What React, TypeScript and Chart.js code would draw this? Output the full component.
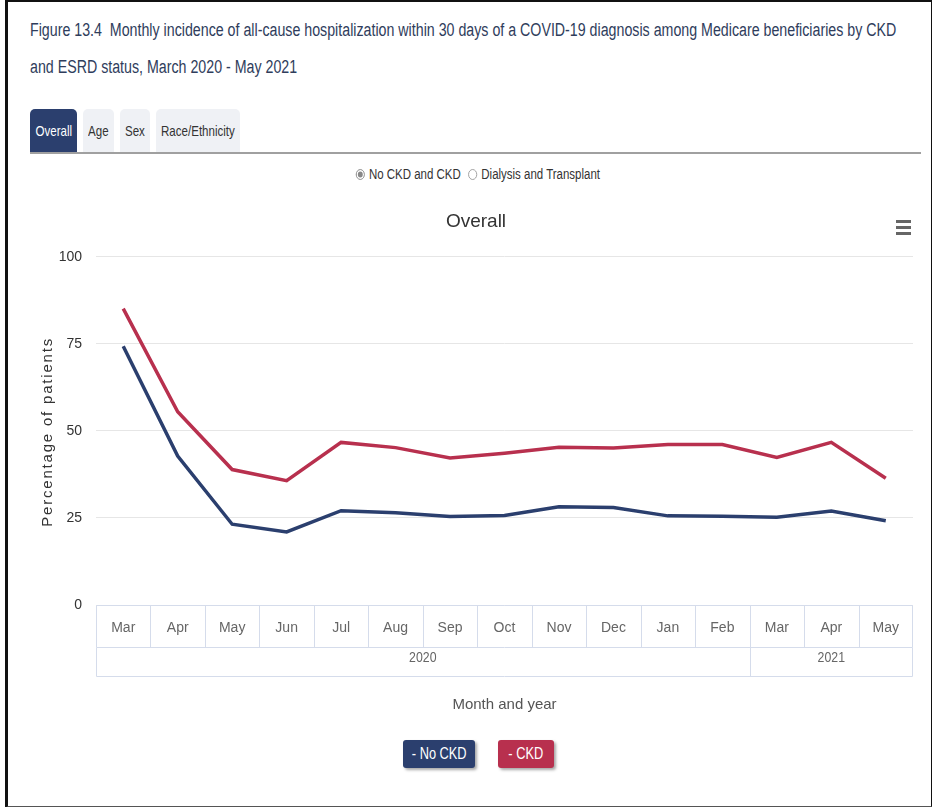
import React, { useEffect, useRef } from "react";
import { Chart, registerables } from "chart.js";

Chart.register(...registerables);

const months = ["Mar", "Apr", "May", "Jun", "Jul", "Aug", "Sep", "Oct", "Nov", "Dec", "Jan", "Feb", "Mar", "Apr", "May"];
const yearLabels = ["2020", "2021"];
const yearSpans = [12, 3];
const seriesNames = ["- No CKD", "- CKD"];
const noCkd = [74.3, 42.8, 23.2, 21.0, 27.1, 26.5, 25.4, 25.7, 28.2, 28.0, 25.6, 25.5, 25.2, 27.0, 24.2];
const ckd = [85.1, 55.5, 38.9, 35.7, 46.7, 45.2, 42.2, 43.6, 45.3, 45.1, 46.1, 46.1, 42.4, 46.7, 36.4];
const yTicks = [0, 25, 50, 75, 100];
const colors = ["#2b3f6e", "#b8304e"];
const yTitle = "Percentage of patients";

const SANS = '"Liberation Sans", Arial, sans-serif';

const groupedAxis = {
  id: "groupedAxis",
  afterDraw(chart: any) {
    const x = chart.scales.x;
    const ctx = chart.ctx;
    const n = months.length;
    const w = (x.getPixelForValue(n - 1) - x.getPixelForValue(0)) / (n - 1);
    const x0 = x.getPixelForValue(0) - w / 2;
    const left = Math.round(x0) + 0.5;
    const right = Math.round(x0 + n * w) - 0.5;
    const top = Math.round(x.top) + 0.5;
    const mid = top + 42;
    const bot = top + 71;
    ctx.save();
    ctx.strokeStyle = "#d5dceb";
    ctx.lineWidth = 1;
    ctx.beginPath();
    ctx.moveTo(left, top); ctx.lineTo(right, top);
    ctx.moveTo(left, mid); ctx.lineTo(right, mid);
    ctx.moveTo(left, bot); ctx.lineTo(right, bot);
    for (let i = 0; i <= n; i++) {
      const px = Math.min(right, Math.round(x0 + i * w) + 0.5);
      ctx.moveTo(px, top); ctx.lineTo(px, mid);
    }
    let idx = 0;
    const bounds = [0];
    yearSpans.forEach((s) => { idx += s; bounds.push(idx); });
    bounds.forEach((b) => {
      const px = Math.min(right, Math.round(x0 + b * w) + 0.5);
      ctx.moveTo(px, mid); ctx.lineTo(px, bot);
    });
    ctx.stroke();
    ctx.fillStyle = "#666";
    ctx.font = `15px ${SANS}`;
    ctx.textAlign = "center";
    ctx.textBaseline = "middle";
    yearLabels.forEach((lab, k) => {
      const a = bounds[k], b = bounds[k + 1];
      const cx = x0 + ((a + b) / 2) * w;
      ctx.save();
      ctx.translate(cx, mid + 10);
      ctx.scale(0.82, 1);
      ctx.fillText(lab, 0, 0);
      ctx.restore();
    });
    // y-axis title
    const y = chart.scales.y;
    ctx.save();
    ctx.fillStyle = "#333";
    ctx.font = `15px ${SANS}`;
    (ctx as any).letterSpacing = "1.8px";
    ctx.textAlign = "center";
    ctx.textBaseline = "middle";
    ctx.translate(38, (y.top + y.bottom) / 2 + 1);
    ctx.rotate(-Math.PI / 2);
    ctx.fillText(yTitle, 0, 0);
    ctx.restore();
    ctx.restore();
  },
};

function LineChart() {
  const ref = useRef<HTMLCanvasElement>(null);
  useEffect(() => {
    if (!ref.current) return;
    const chart = new Chart(ref.current, {
      type: "line",
      data: {
        labels: months,
        datasets: [
          { label: seriesNames[0], data: noCkd, borderColor: colors[0], backgroundColor: colors[0], borderWidth: 3.5, pointRadius: 0, tension: 0 },
          { label: seriesNames[1], data: ckd, borderColor: colors[1], backgroundColor: colors[1], borderWidth: 3.5, pointRadius: 0, tension: 0 },
        ],
      },
      options: {
        responsive: false,
        animation: false,
        layout: { padding: { left: 29, right: 12, top: 0, bottom: 0 } },
        plugins: {
          legend: { display: false },
          tooltip: { enabled: false },
          title: {
            display: true,
            text: "Overall",
            color: "#333",
            font: { family: SANS, size: 19, weight: "normal" },
            padding: { top: 10, bottom: 24 },
          },
        },
        scales: {
          x: {
            type: "category",
            offset: true,
            afterFit: (s: any) => { s.height = 125; },
            grid: { display: false, drawTicks: false },
            border: { display: false },
            ticks: { color: "#666", font: { family: SANS, size: 14 }, padding: 15, maxRotation: 0, autoSkip: false },
            title: {
              display: true,
              text: "Month and year",
              color: "#555",
              font: { family: SANS, size: 15 },
              padding: { top: 0, bottom: 16 },
            },
          },
          y: {
            min: 0,
            max: 100,
            afterFit: (s: any) => { s.width = 57; },
            afterBuildTicks: (s: any) => { s.ticks = yTicks.map((v) => ({ value: v })); },
            grid: { color: "#e6e6e6", drawTicks: false, lineWidth: 1 },
            border: { display: false },
            ticks: { color: "#333", font: { family: SANS, size: 14 }, padding: 14 },
            title: { display: false },
          },
        },
      },
      plugins: [groupedAxis],
    });
    return () => chart.destroy();
  }, []);
  return <canvas ref={ref} width={915} height={530} style={{ position: "absolute", left: 10, top: 200, width: 915, height: 530 }} />;
}

const tabs = [
  { label: "Overall", x: 30, w: 47 },
  { label: "Age", x: 83, w: 31 },
  { label: "Sex", x: 120, w: 30 },
  { label: "Race/Ethnicity", x: 156, w: 84 },
];

const squeeze = (k: number) => ({ display: "inline-block", transform: `scaleX(${k})`, whiteSpace: "nowrap" as const });

export default function App() {
  const abs = (o: any) => ({ position: "absolute" as const, ...o });
  return (
    <div style={abs({ left: 0, top: 0, width: 932, height: 807, background: "#fff", fontFamily: SANS, overflow: "hidden" })}>
      <div style={abs({ left: 5, top: 0, width: 923, height: 804, borderTop: "2px solid #111", borderLeft: "3px solid #111", borderRight: "3px solid #111", borderBottom: "2px solid #555" })} />
      <div style={abs({ left: 30, top: 12, fontSize: 18, lineHeight: "37px", color: "#2f3d5c", whiteSpace: "nowrap", transform: "scaleX(0.79)", transformOrigin: "0 0" })}>
        Figure 13.4&nbsp; Monthly incidence of all-cause hospitalization within 30 days of a COVID-19 diagnosis among Medicare beneficiaries by CKD
        <br />
        and ESRD status, March 2020 - May 2021
      </div>
      {tabs.map((t, i) => (
        <div key={t.label} style={abs({ left: t.x, top: 109, width: t.w, height: 43, borderRadius: "5px 5px 0 0", background: i === 0 ? "#2b3f6e" : "#eff1f5", color: i === 0 ? "#fff" : "#333", fontSize: 15, display: "flex", alignItems: "center", justifyContent: "center" })}>
          <span style={squeeze(0.77)}>{t.label}</span>
        </div>
      ))}
      <div style={abs({ left: 30, top: 152, width: 891, height: 2, background: "#a0a0a0" })} />
      <div style={abs({ left: 355, top: 165, width: 246, height: 18, display: "flex", justifyContent: "center" })}>
        <div style={{ fontSize: 14, color: "#333", display: "flex", alignItems: "center", whiteSpace: "nowrap", transform: "scaleX(0.82)" }}>
          <span style={{ display: "inline-block", width: 9, height: 9, borderRadius: "50%", border: "1px solid #999", background: "#888", marginRight: 5, boxShadow: "inset 0 0 0 1.5px #fff" }} />
          No CKD and CKD
          <span style={{ display: "inline-block", width: 9, height: 9, borderRadius: "50%", border: "1px solid #999", background: "#fff", marginLeft: 9, marginRight: 5 }} />
          Dialysis and Transplant
        </div>
      </div>
      <div style={abs({ left: 896, top: 220, width: 15 })}>
        {[0, 1, 2].map((k) => (
          <div key={k} style={{ height: 3, background: "#666", marginBottom: 3 }} />
        ))}
      </div>
      <LineChart />
      <div style={abs({ left: 403, top: 740, width: 72, height: 28, background: colors[0], color: "#fff", borderRadius: 3, fontSize: 16, display: "flex", alignItems: "center", justifyContent: "center", boxShadow: "2px 2px 3px rgba(0,0,0,0.35)" })}><span style={squeeze(0.8)}>{seriesNames[0]}</span></div>
      <div style={abs({ left: 498, top: 740, width: 56, height: 28, background: colors[1], color: "#fff", borderRadius: 3, fontSize: 16, display: "flex", alignItems: "center", justifyContent: "center", boxShadow: "2px 2px 3px rgba(0,0,0,0.35)" })}><span style={squeeze(0.8)}>{seriesNames[1]}</span></div>
    </div>
  );
}
